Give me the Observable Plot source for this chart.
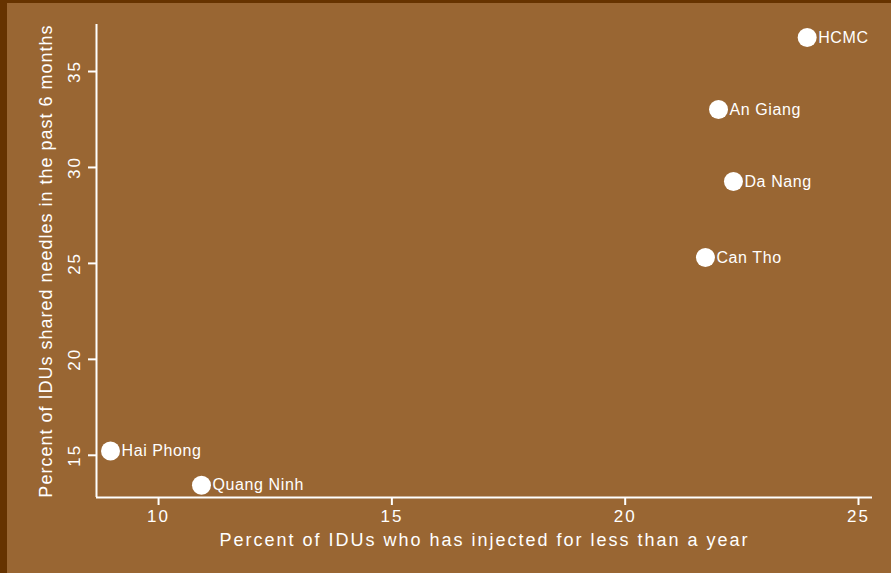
<!DOCTYPE html>
<html><head><meta charset="utf-8">
<script src="https://cdn.jsdelivr.net/npm/d3@7"></script>
<script src="https://cdn.jsdelivr.net/npm/@observablehq/plot@0.6"></script>
<style>
body{margin:0;background:#996633;}
#wrap{position:relative;width:891px;height:573px;overflow:hidden;}
#frame{position:absolute;left:0;top:0;width:891px;height:573px;box-sizing:border-box;border-left:7px solid #663300;border-top:3px solid #663300;pointer-events:none;}
svg{display:block;font-family:"Liberation Sans", Arial, sans-serif !important;}
</style>
</head><body>
<div id="wrap"><div id="frame"></div></div>
<script>
const provinces = ["HCMC", "An Giang", "Da Nang", "Can Tho", "Hai Phong", "Quang Ninh"];
const pctInjectedLessThanYear = [23.9, 22.0, 22.32, 21.72, 8.97, 10.92];
const pctSharedNeedles = [36.77, 33.02, 29.27, 25.31, 15.22, 13.44];
const xTicks = [10, 15, 20, 25];
const yTicks = [15, 20, 25, 30, 35];
const xDomain = [8.67, 25.3];
const yDomain = [12.8, 37.45];
const xTitle = "Percent of IDUs who has injected for less than a year";
const yTitle = "Percent of IDUs shared needles in the past 6 months";

const data = provinces.map((p, i) => ({province: p, x: pctInjectedLessThanYear[i], y: pctSharedNeedles[i]}));

const chart = Plot.plot({
  width: 891, height: 573,
  marginLeft: 96, marginRight: 19, marginTop: 24, marginBottom: 76,
  style: {background: "transparent", color: "white", fontFamily: "Liberation Sans"},
  x: {domain: xDomain},
  y: {domain: yDomain},
  marks: [
    Plot.ruleX([xDomain[0]], {stroke: "white", strokeWidth: 2}),
    Plot.ruleY([yDomain[0]], {stroke: "white", strokeWidth: 2}),
    Plot.axisX({ticks: xTicks, tickSize: 8, tickPadding: 4, fontSize: 17, label: null, stroke: "white", strokeWidth: 2, fill: "white"}),
    Plot.axisY({ticks: yTicks, tickSize: 8, tickPadding: 9, tickRotate: -90, fontSize: 17, label: null, stroke: "white", strokeWidth: 2, fill: "white"}),
    Plot.text([xTitle], {text: d => d, frameAnchor: "bottom", textAnchor: "middle", dy: 48, fontSize: 18, fill: "white"}),
    Plot.text([yTitle], {text: d => d, frameAnchor: "left", textAnchor: "middle", dx: -50, rotate: -90, fontSize: 18, fill: "white"}),
    Plot.dot(data, {x: "x", y: "y", r: 9.5, fill: "white", stroke: null}),
    Plot.text(data, {x: "x", y: "y", text: "province", dx: 11, textAnchor: "start", fontSize: 16, fill: "white"})
  ]
});
const svg = d3.select(chart);
svg.selectAll("text").attr("letter-spacing", 0.6);
svg.selectAll('g[aria-label="x-axis tick label"], g[aria-label="y-axis tick label"]')
  .attr("font-size", 17).attr("letter-spacing", 2)
  .selectAll("text").attr("font-size", 17).attr("letter-spacing", 2);
svg.selectAll("text").filter(function(){ return this.textContent === xTitle; }).attr("letter-spacing", 2);
svg.selectAll("text").filter(function(){ return this.textContent === yTitle; }).attr("letter-spacing", 1);
document.getElementById("wrap").prepend(chart);
</script>
</body></html>
